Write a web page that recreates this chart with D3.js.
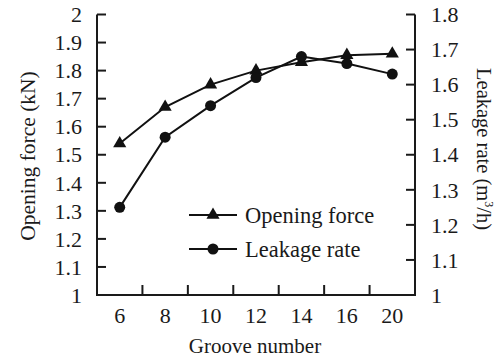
<!DOCTYPE html>
<html><head><meta charset="utf-8">
<script src="https://cdn.jsdelivr.net/npm/d3@7"></script>
<style>body{margin:0;background:#fff}svg{display:block}</style>
</head><body>
<svg id="c" width="497" height="362"></svg>
<script>
const categories = ["6","8","10","12","14","16","20"];
const openingForce = [1.54,1.67,1.75,1.80,1.83,1.855,1.86];
const leakageRate = [1.25,1.45,1.54,1.62,1.68,1.66,1.63];
const leftTicks = [1,1.1,1.2,1.3,1.4,1.5,1.6,1.7,1.8,1.9,2];
const rightTicks = [1,1.1,1.2,1.3,1.4,1.5,1.6,1.7,1.8];

const FONT = "'Liberation Serif', 'Times New Roman', Times, 'DejaVu Serif', serif";
const svg = d3.select("#c").attr("font-family", FONT);
const L = 97, R = 415, T = 14.5, B = 295;
const x = d3.scaleBand().domain(categories).range([L, R]);
const yL = d3.scaleLinear().domain([1, 2]).range([B, T]);
const yR = d3.scaleLinear().domain([1, 1.8]).range([B, T]);
const fs = 22;
const txt = "#1a1a1a";

const g = svg.append("g").attr("stroke", "#1a1a1a").attr("stroke-width", 2).attr("fill", "none");
g.append("path").attr("d", `M${L},${T}V${B}H${R}V${T}`);
leftTicks.forEach(v => g.append("line").attr("x1", L).attr("x2", L + 9).attr("y1", yL(v)).attr("y2", yL(v)));
rightTicks.forEach(v => g.append("line").attr("x1", R).attr("x2", R - 9).attr("y1", yR(v)).attr("y2", yR(v)));
categories.slice(1).forEach(c => g.append("line").attr("x1", x(c)).attr("x2", x(c)).attr("y1", B).attr("y2", B - 10));

leftTicks.forEach(v => svg.append("text").attr("x", 82).attr("y", yL(v)).attr("dy", "0.35em").attr("fill", txt)
  .attr("text-anchor", "end").attr("font-size", fs).text(d3.format("~g")(v)));
rightTicks.forEach(v => svg.append("text").attr("x", 431).attr("y", yR(v)).attr("dy", "0.35em").attr("fill", txt)
  .attr("text-anchor", "start").attr("font-size", fs).text(d3.format("~g")(v)));
categories.forEach(c => svg.append("text").attr("x", x(c) + x.bandwidth() / 2).attr("y", 323).attr("fill", txt)
  .attr("text-anchor", "middle").attr("font-size", fs).text(c));

svg.append("text").attr("x", 255).attr("y", 353).attr("text-anchor", "middle").attr("font-size", 21).attr("fill", txt).text("Groove number");
svg.append("text").attr("transform", "translate(35,156) rotate(-90)").attr("text-anchor", "middle").attr("fill", txt)
  .attr("font-size", 21.5).text("Opening force (kN)");
const rt = svg.append("text").attr("transform", "translate(477,149) rotate(90)").attr("text-anchor", "middle").attr("fill", txt)
  .attr("font-size", 20.5);
rt.append("tspan").text("Leakage rate (m");
rt.append("tspan").attr("font-size", 12).attr("dy", -8).text("3");
rt.append("tspan").attr("dy", 8).text("/h)");

const cx = c => x(c) + x.bandwidth() / 2;
const line = (ys, arr) => d3.line().x((d, i) => cx(categories[i])).y(d => ys(d))(arr);
svg.append("path").attr("d", line(yL, openingForce)).attr("stroke", "#111").attr("stroke-width", 2).attr("fill", "none");
svg.append("path").attr("d", line(yR, leakageRate)).attr("stroke", "#111").attr("stroke-width", 2).attr("fill", "none");
const tri = d3.symbol().type(d3.symbolTriangle).size(75);
openingForce.forEach((v, i) => svg.append("path").attr("d", tri())
  .attr("transform", `translate(${cx(categories[i])},${yL(v)})`).attr("fill", "#111"));
leakageRate.forEach((v, i) => svg.append("circle").attr("cx", cx(categories[i])).attr("cy", yR(v)).attr("r", 5.5).attr("fill", "#111"));

const lg = [{name: "Opening force", y: 215, t: "tri"}, {name: "Leakage rate", y: 249, t: "circ"}];
lg.forEach(d => {
  svg.append("line").attr("x1", 189).attr("x2", 237).attr("y1", d.y).attr("y2", d.y).attr("stroke", "#111").attr("stroke-width", 2);
  if (d.t === "tri") svg.append("path").attr("d", tri()).attr("transform", `translate(213,${d.y})`).attr("fill", "#111");
  else svg.append("circle").attr("cx", 213).attr("cy", d.y).attr("r", 5.5).attr("fill", "#111");
  svg.append("text").attr("x", 245).attr("y", d.y).attr("dy", "0.35em").attr("font-size", 22.5).attr("fill", txt).text(d.name);
});
</script>
</body></html>
